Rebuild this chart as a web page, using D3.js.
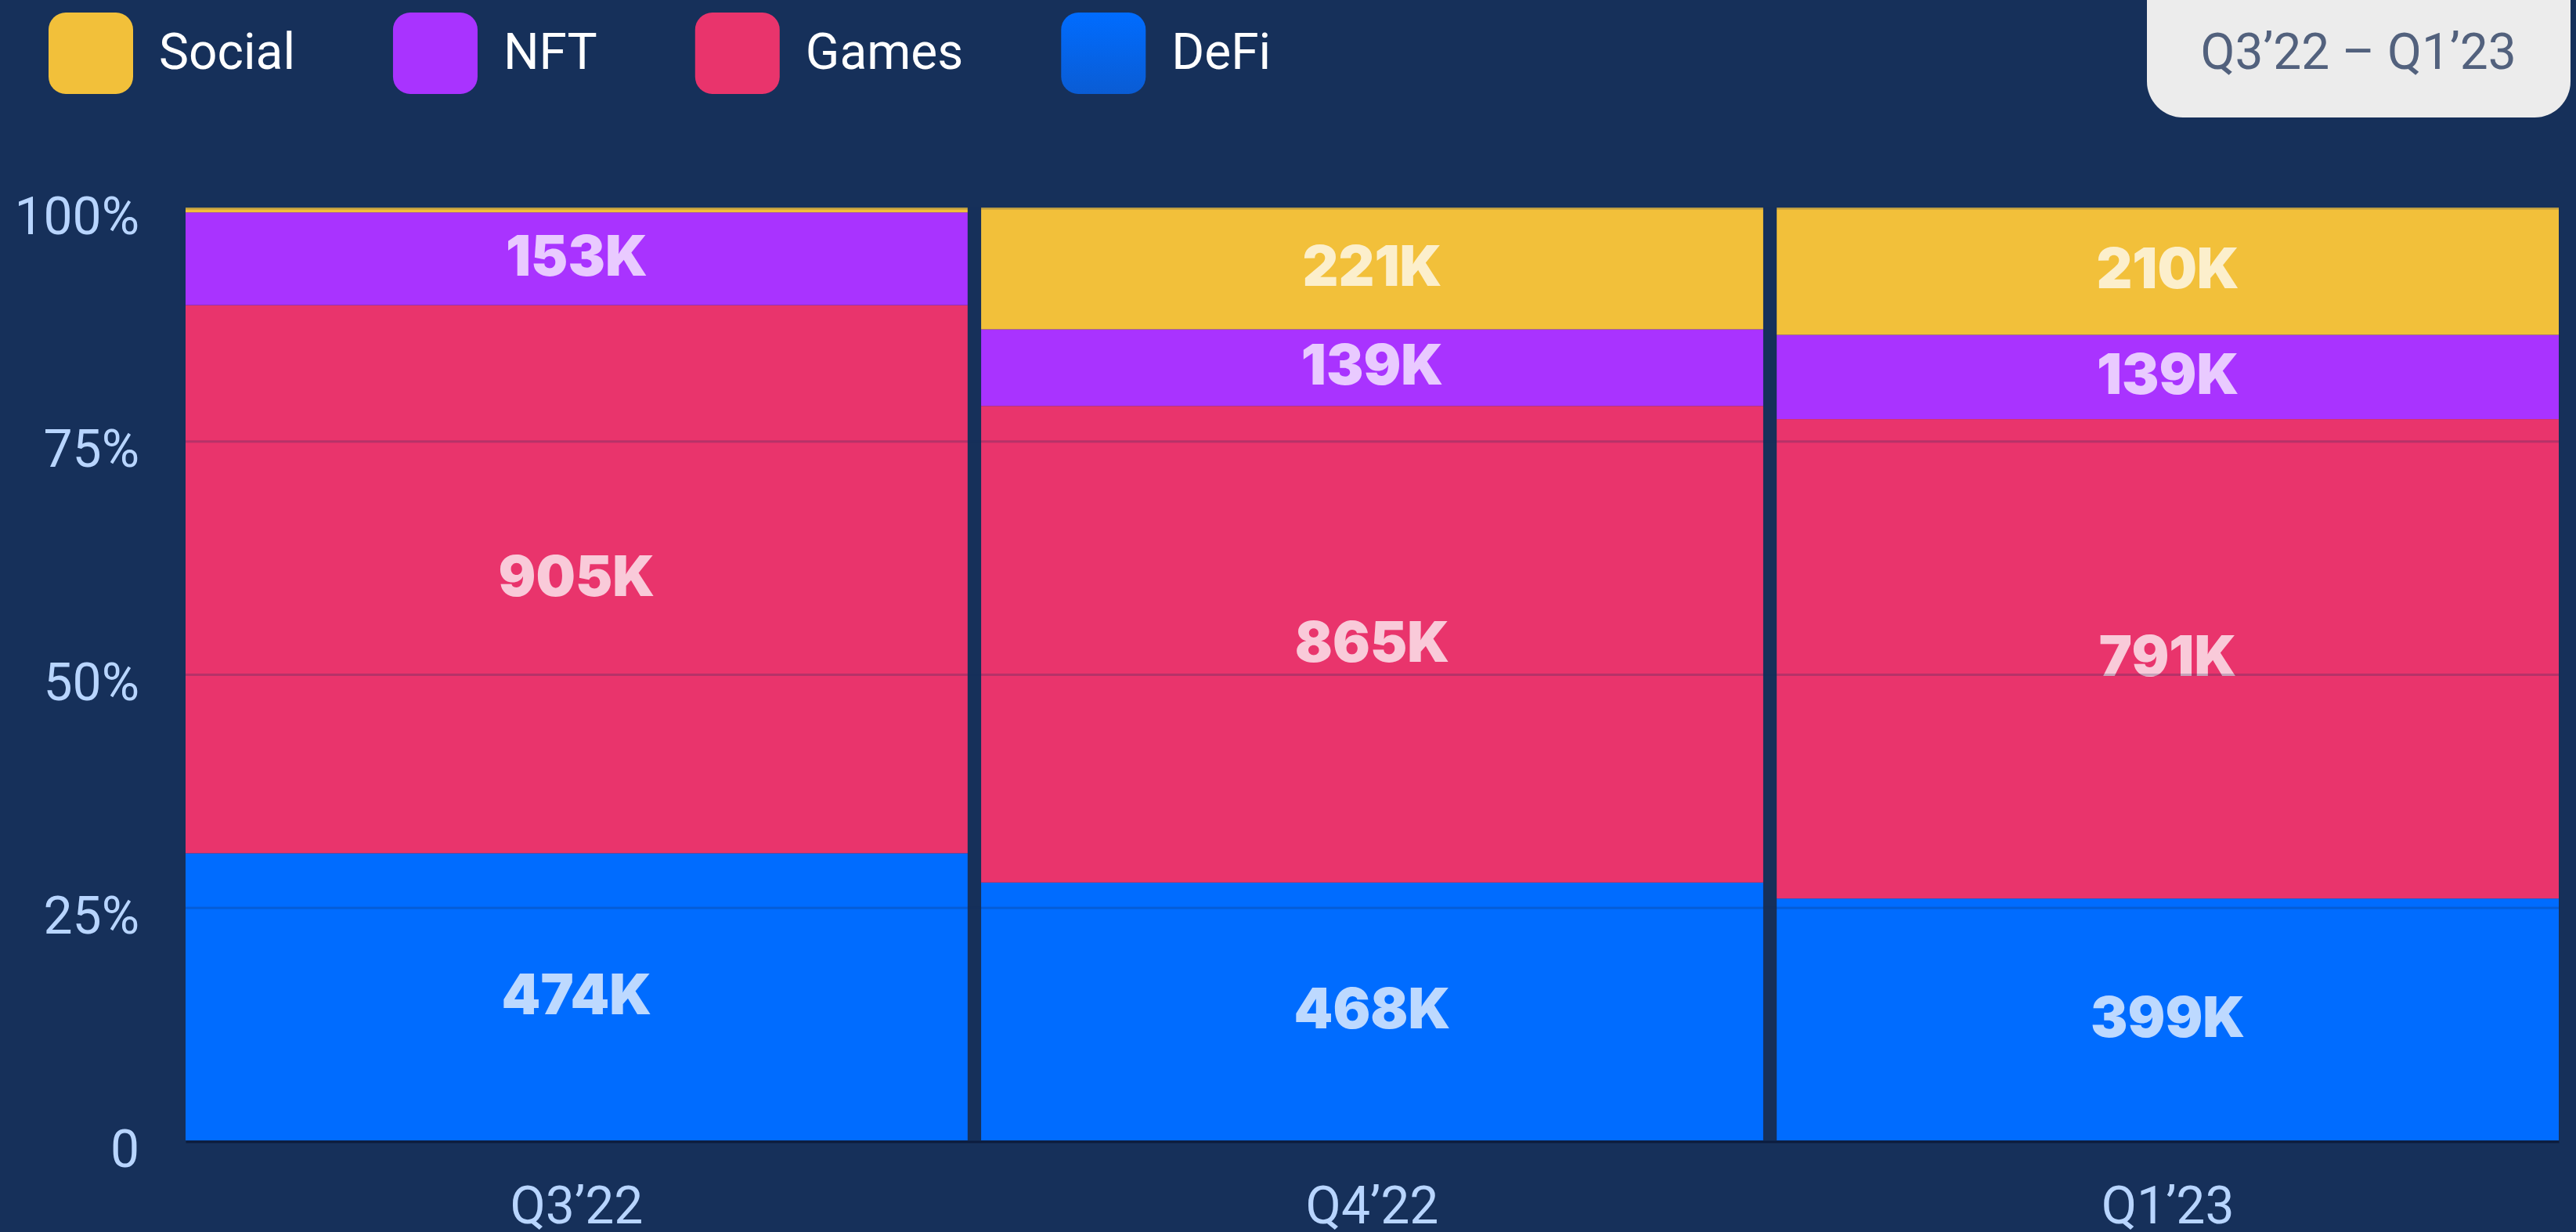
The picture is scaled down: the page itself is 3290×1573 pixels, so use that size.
<!DOCTYPE html>
<html>
<head>
<meta charset="utf-8">
<script src="https://cdn.jsdelivr.net/npm/d3@7"></script>
<style>
  html, body { margin: 0; padding: 0; background: #16305a; }
  svg { display: block; }
</style>
</head>
<body>
<div id="chart"></div>
<script>
// Data (thousands of users per category)
const categories = ["Q3’22", "Q4’22", "Q1’23"];
const defi   = [474, 468, 399];
const games  = [905, 865, 791];
const nft    = [153, 139, 139];
const social = [8, 221, 210];
const stackKeys = ["DeFi", "Games", "NFT", "Social"];
const legendKeys = ["Social", "NFT", "Games", "DeFi"];
const yTicks = [0, 0.25, 0.5, 0.75, 1];
const yTickLabels = ["0", "25%", "50%", "75%", "100%"];
const periodLabel = "Q3’22 – Q1’23";

const width = 3290, height = 1573;
const margin = { left: 237, right: 22, top: 265, bottom: 117 };

const colors = {
  Social: "#F2C03A",
  NFT: "#A933FF",
  Games: "#E9346C",
  DeFi: "#006CFF"
};

const table = categories.map((c, i) => ({
  category: c,
  DeFi: defi[i],
  Games: games[i],
  NFT: nft[i],
  Social: social[i]
}));

const svg = d3.select("#chart")
  .append("svg")
  .attr("width", width)
  .attr("height", height);

svg.append("rect")
  .attr("width", width)
  .attr("height", height)
  .attr("fill", "#16305a");

const defs = svg.append("defs");
const grad = defs.append("linearGradient")
  .attr("id", "defiGrad")
  .attr("x1", 0).attr("y1", 0).attr("x2", 0).attr("y2", 1);
grad.append("stop").attr("offset", "0%").attr("stop-color", "#006CFF");
grad.append("stop").attr("offset", "100%").attr("stop-color", "#0A5CD4");

// Scales
const xScale = d3.scaleBand()
  .domain(categories)
  .range([margin.left, width - margin.right])
  .paddingInner(0.017)
  .paddingOuter(0);

const yScale = d3.scaleLinear()
  .domain([0, 1])
  .range([height - margin.bottom, margin.top]);

// Stack, normalised to 100%
const series = d3.stack()
  .keys(stackKeys)
  .offset(d3.stackOffsetExpand)(table);

// Bars
const layers = svg.append("g")
  .selectAll("g")
  .data(series)
  .join("g")
  .attr("fill", d => colors[d.key]);

layers.selectAll("rect")
  .data(d => d)
  .join("rect")
  .attr("x", d => xScale(d.data.category))
  .attr("y", d => yScale(d[1]))
  .attr("width", xScale.bandwidth())
  .attr("height", d => yScale(d[0]) - yScale(d[1]));

// Gridlines over the bars
svg.append("g")
  .selectAll("line")
  .data(yTicks.filter(t => t > 0))
  .join("line")
  .attr("x1", margin.left)
  .attr("x2", width - margin.right)
  .attr("y1", d => yScale(d) + 1)
  .attr("y2", d => yScale(d) + 1)
  .attr("stroke", "#16305a")
  .attr("stroke-opacity", 0.24)
  .attr("stroke-width", 3);

// Value labels
layers.selectAll("text")
  .data(d => d.map(s => ({ s, key: d.key })))
  .join("text")
  .filter(d => yScale(d.s[0]) - yScale(d.s[1]) > 40)
  .attr("x", d => xScale(d.s.data.category) + xScale.bandwidth() / 2)
  .attr("y", d => (yScale(d.s[0]) + yScale(d.s[1])) / 2)
  .attr("dy", "0.31em")
  .attr("text-anchor", "middle")
  .attr("fill", "#ffffff")
  .attr("fill-opacity", 0.74)
  .style("font-family", "Inter, Lato, sans-serif")
  .style("font-weight", 900)
  .style("font-size", "71px")
  .text(d => d.s.data[d.key] + "K");

// Left axis
const leftAxis = d3.axisLeft(yScale)
  .tickValues(yTicks)
  .tickFormat((d, i) => yTickLabels[i])
  .tickSize(0)
  .tickPadding(59);

const gy = svg.append("g")
  .attr("transform", `translate(${margin.left},0)`)
  .call(leftAxis);
gy.select(".domain").remove();
gy.selectAll("text")
  .attr("dy", "0.5em")
  .attr("fill", "#B8D5FF")
  .style("font-family", "Roboto, sans-serif")
  .style("font-size", "66px");

// Bottom axis
const bottomAxis = d3.axisBottom(xScale)
  .tickSize(0)
  .tickSizeOuter(0)
  .tickPadding(58);

const gx = svg.append("g")
  .attr("transform", `translate(0,${height - margin.bottom + 1.5})`)
  .call(bottomAxis);
gx.select(".domain")
  .attr("stroke", "#0c1c3e")
  .attr("stroke-width", 3);
gx.selectAll("text")
  .attr("fill", "#B8D5FF")
  .style("font-family", "Roboto, sans-serif")
  .style("font-size", "66px");

// Legend
const legend = svg.append("g");
let lx = 62;
legendKeys.forEach(key => {
  const item = legend.append("g").attr("transform", `translate(${lx},0)`);
  item.append("rect")
    .attr("x", 0)
    .attr("y", 16)
    .attr("width", 108)
    .attr("height", 104)
    .attr("rx", 22)
    .attr("fill", key === "DeFi" ? "url(#defiGrad)" : colors[key]);
  const t = item.append("text")
    .attr("x", 141)
    .attr("y", 88)
    .attr("fill", "#ffffff")
    .style("font-family", "Roboto, sans-serif")
    .style("font-size", "64px")
    .text(key);
  lx += 141 + t.node().getComputedTextLength() + 125;
});

// Period badge
svg.append("rect")
  .attr("x", 2742)
  .attr("y", -60)
  .attr("width", 541)
  .attr("height", 210)
  .attr("rx", 46)
  .attr("fill", "#ECECEC");

svg.append("text")
  .attr("x", 3012)
  .attr("y", 88)
  .attr("text-anchor", "middle")
  .attr("fill", "#52617D")
  .style("font-family", "Roboto, sans-serif")
  .style("font-size", "64px")
  .text(periodLabel);
</script>
</body>
</html>
